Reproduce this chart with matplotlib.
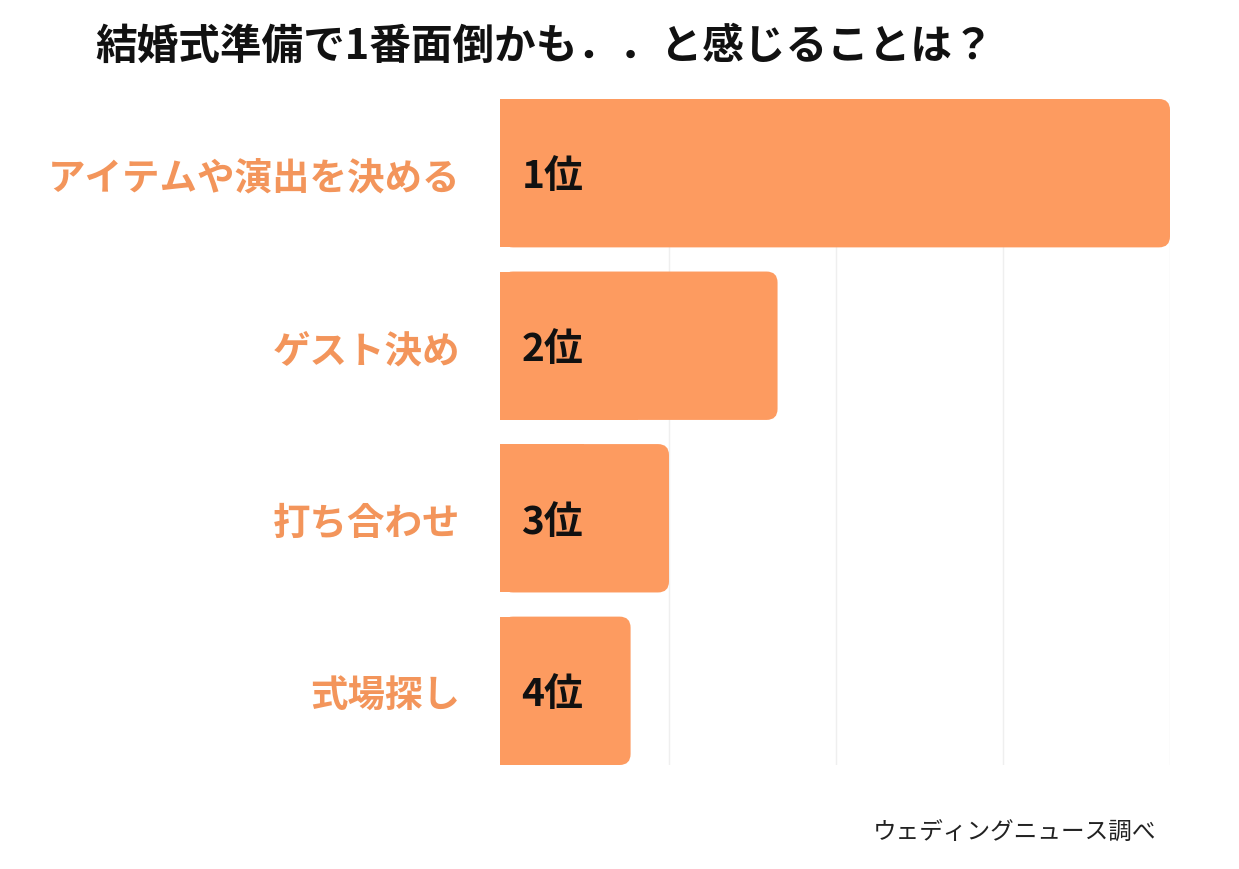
import numpy as np
import matplotlib.pyplot as plt
from matplotlib.patches import FancyBboxPatch, Rectangle

plt.rcParams['font.family'] = ['Noto Sans CJK JP', 'DejaVu Sans']

# data (relative length)
categories = ['アイテムや演出を決める', 'ゲスト決め', '打ち合わせ', '式場探し']
values = [4.0, 1.65, 1.0, 0.77]
ranks = ['1位', '2位', '3位', '4位']

bar_color = '#FD9B60'
label_color = '#F3955B'

fig = plt.figure(figsize=(12.39, 8.70), dpi=100)
ax = fig.add_axes([502/1239, 104/870, 668/1239, 666/870])

y = np.arange(len(categories))
bars = ax.barh(y, values, height=0.86, color='none')

ax.set_xlim(0, 4)
ax.set_ylim(len(categories) - 1 + 0.43, -0.43)

# rounded right corners, square left corners
x_per_px = 4 / 668
y_per_px = (len(categories) - 1 + 0.86) / 666
for b in bars:
    x0, y0, w, h = b.get_x(), b.get_y(), b.get_width(), b.get_height()
    fb = FancyBboxPatch((x0, y0), w, h,
                        boxstyle='round,pad=0,rounding_size=%f' % (11 * x_per_px),
                        mutation_aspect=y_per_px / x_per_px,
                        fc=bar_color, ec='none', clip_on=False, zorder=2)
    ax.add_patch(fb)
    ax.add_patch(Rectangle((x0 - 2 * x_per_px, y0), w / 2, h, fc=bar_color, ec='none',
                           clip_on=False, zorder=2))

for yi, r in zip(y, ranks):
    ax.annotate(r, (0, yi), xytext=(14, -2), textcoords='offset points',
                va='center', ha='left', fontsize=28, fontweight='bold',
                color='#111111', zorder=3)

ax.set_xticks([1, 2, 3, 4])
ax.xaxis.grid(True, color='#EFEFEF', linewidth=1)
ax.set_axisbelow(True)
ax.tick_params(axis='x', length=0, labelbottom=False)
ax.set_yticks(y)
ax.set_yticklabels(categories, fontsize=27, fontweight='bold', color=label_color)
ax.tick_params(axis='y', length=0, pad=30)
for s in ax.spines.values():
    s.set_visible(False)

fig.text(95/1239, 1 - 47/870, '結婚式準備で1番面倒かも．．と感じることは？',
         fontsize=30, fontweight='bold', va='center', ha='left', color='#111111')
fig.text(873/1239, 1 - 833/870, 'ウェディングニュース調べ',
         fontsize=17, va='center', ha='left', color='#222222')

fig.savefig('out.png', dpi=100)
